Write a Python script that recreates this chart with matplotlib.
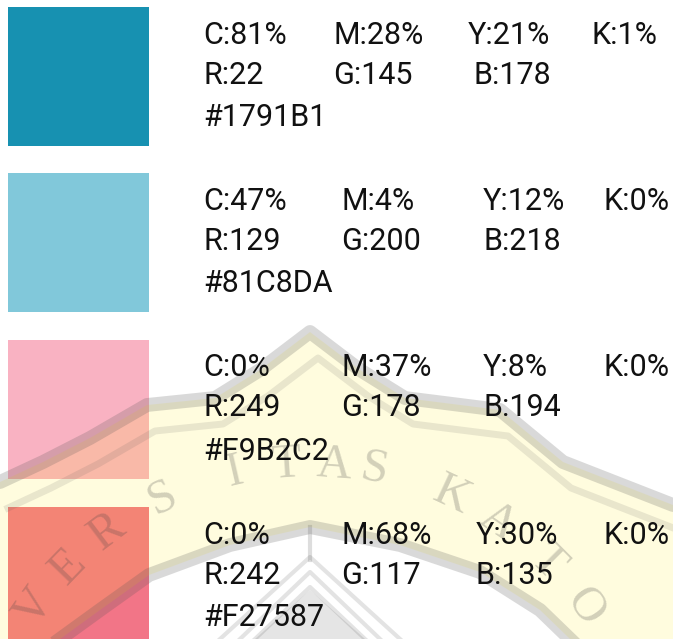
import numpy as np
import matplotlib
matplotlib.use("Agg")
import matplotlib.pyplot as plt
from matplotlib.patches import Polygon

# palette data
hex_codes = ["#1791B1", "#81C8DA", "#F9B2C2", "#F27587"]
cmyk = [(81, 28, 21, 1), (47, 4, 12, 0), (0, 37, 8, 0), (0, 68, 30, 0)]
rgb = [(22, 145, 178), (129, 200, 218), (249, 178, 194), (242, 117, 135)]

# layout (pixels, y going down)
W, H = 673, 639
row_top = [7, 173, 340, 507]
sw_x, sw_w, sw_h = 8, 141, 139
cmyk_x = [[205, 335, 470, 593], [205, 343, 485, 605],
          [205, 343, 485, 605], [205, 343, 478, 606]]
rgb_x = [[205, 335, 476], [205, 343, 485], [205, 343, 485], [205, 343, 478]]

fig = plt.figure(figsize=(W / 100, H / 100), dpi=100)
ax = fig.add_axes([0, 0, 1, 1])
ax.set_xlim(0, W)
ax.set_ylim(H, 0)
ax.axis("off")

# swatches
ax.bar([sw_x] * 4, [sw_h] * 4, width=sw_w, bottom=row_top, align="edge",
       color=hex_codes, zorder=1)

# faint watermark (university logo) over everything but the text
outer = [(0, 482), (43, 462), (90, 438), (147, 405), (215, 398), (260, 370),
         (310, 332), (360, 370), (405, 398), (500, 410), (563, 462), (673, 505)]
inner = [(60, 639), (100, 610), (149, 575), (230, 545), (310, 527), (400, 545),
         (480, 572), (540, 610), (570, 639)]
ring = outer + [(673, 639)] + inner[::-1] + [(0, 639)]
ax.add_patch(Polygon(ring, closed=True, facecolor="#ffee00", alpha=0.13,
                     edgecolor="none", zorder=2))
ob = np.array(outer)
ax.plot(ob[:, 0], ob[:, 1], color="#555555", alpha=0.22, lw=10,
        solid_joinstyle="round", solid_capstyle="round", zorder=2)
ax.plot(ob[:, 0] + 8, ob[:, 1] + 26, color="#555555", alpha=0.13, lw=5,
        solid_joinstyle="round", zorder=2)
ib = np.array(inner)
ax.plot(ib[:, 0], ib[:, 1], color="#555555", alpha=0.22, lw=10,
        solid_joinstyle="round", zorder=2)
for dy, dx in [(30, 90), (45, 70), (60, 55)]:
    ax.plot([310 - dx, 310, 310 + dx], [639, 527 + dy, 639], color="#555555",
            alpha=0.16, lw=3, zorder=2)
ax.add_patch(Polygon([(255, 639), (310, 590), (365, 639)], closed=True,
                     facecolor="#555555", alpha=0.15, edgecolor="none", zorder=2))
ax.plot([310, 310], [527, 560], color="#555555", alpha=0.2, lw=3, zorder=2)

cx, cy, rad = 310, 800, 336
letters = "VERSITASKATO"
angs = [-55, -46, -37, -26, -13, -4, 4, 11, 25, 34, 45, 55]
for ch, a in zip(letters, angs):
    t = np.radians(a)
    ax.text(cx + rad * np.sin(t), cy - rad * np.cos(t), ch, rotation=-a,
            ha="center", va="center", fontsize=35, family="Liberation Serif",
            color="#444444", alpha=0.24, zorder=2)

# text labels
fs = 22
for i in range(4):
    y0 = row_top[i]
    for j, (lab, v) in enumerate(zip("CMYK", cmyk[i])):
        ax.text(cmyk_x[i][j] - 2, y0 + 28, f"{lab}:{v}%", fontsize=fs,
                family="Roboto", va="center", color="#111111", zorder=3)
    for j, (lab, v) in enumerate(zip("RGB", rgb[i])):
        ax.text(rgb_x[i][j] - 2, y0 + 68, f"{lab}:{v}", fontsize=fs,
                family="Roboto", va="center", color="#111111", zorder=3)
    ax.text(203, y0 + 111, hex_codes[i], fontsize=fs, family="Roboto",
            va="center", color="#111111", zorder=3)

fig.savefig("out.png", dpi=100)
